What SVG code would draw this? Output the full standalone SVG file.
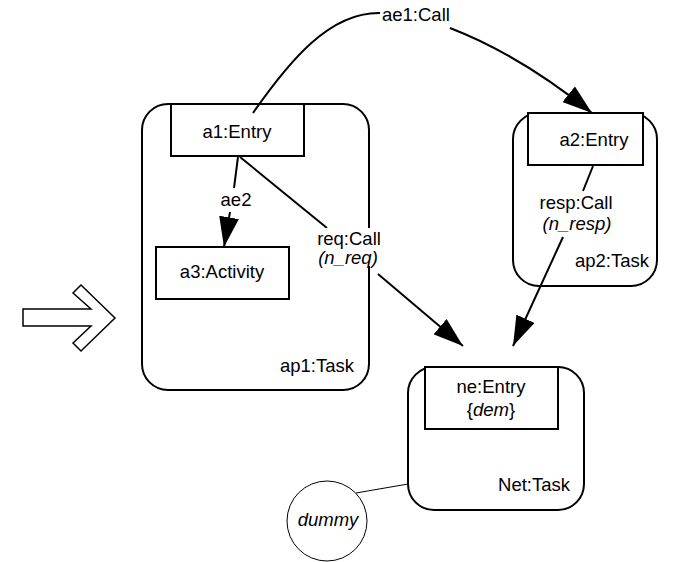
<svg xmlns="http://www.w3.org/2000/svg" width="691" height="562" viewBox="0 0 691 562">
  <defs>
    <marker id="arrow" markerUnits="userSpaceOnUse" markerWidth="30" markerHeight="20" refX="30" refY="10" orient="auto">
      <path d="M0,0 L30,10 L0,20 z" fill="#000"/>
    </marker>
    <style>
      text { font-family: "Liberation Sans", Arial, sans-serif; font-size: 18.5px; fill: #000; }
      .it { font-style: italic; }
      .mid { text-anchor: middle; }
      .end { text-anchor: end; }
      .task { fill: #fff; stroke: #000; stroke-width: 2; }
      .box { fill: #fff; stroke: #000; stroke-width: 2; }
      .conn { fill: none; stroke: #000; stroke-width: 2; }
      .thin { fill: none; stroke: #000; stroke-width: 1; }
      .label-bg { fill: #fff; stroke: none; }
    </style>
  </defs>
  <rect width="691" height="562" fill="#fff"/>

  <!-- hollow block arrow on the left -->
  <polygon points="23,309 91,309 73,293 81,285 115,318 81,351 73,343 91,326 23,326" fill="#fff" stroke="#000" stroke-width="1.5" stroke-linejoin="miter"/>

  <g id="ap1">
    <rect class="task" x="142" y="104" width="227" height="286" rx="26" ry="26"/>
    <text class="end" x="354" y="372">ap1:Task</text>
  </g>
  <g id="a1">
    <rect class="box" x="171" y="104" width="133" height="52"/>
    <text class="mid" x="237" y="138">a1:Entry</text>
  </g>
  <g id="a3">
    <rect class="box" x="156" y="247" width="133" height="52"/>
    <text class="mid" x="222" y="278">a3:Activity</text>
  </g>

  <g id="ap2">
    <rect class="task" x="513" y="113" width="144" height="173" rx="26" ry="26"/>
    <text class="end" x="649" y="267">ap2:Task</text>
  </g>
  <g id="a2">
    <rect class="box" x="528" y="113" width="115" height="52"/>
    <text class="mid" x="594" y="146">a2:Entry</text>
  </g>

  <g id="net">
    <rect class="task" x="408" y="367" width="176" height="143" rx="26" ry="26"/>
    <text class="end" x="570" y="491">Net:Task</text>
  </g>
  <g id="ne">
    <rect class="box" x="425" y="367" width="133" height="62"/>
    <text class="mid" x="491" y="393">ne:Entry</text>
    <text class="mid" x="491" y="416">{<tspan class="it">dem</tspan>}</text>
  </g>

  <g id="dummy">
    <circle cx="327" cy="521" r="40" fill="#fff" stroke="#000" stroke-width="1"/>
    <text class="mid it" x="328" y="526">dummy</text>
  </g>

  <g id="connectors">
    <!-- ae1:Call -->
    <path class="conn" d="M253,113 C290,60 330,12 380,13"/>
    <path class="conn" d="M450,28 Q520,55 592,113" marker-end="url(#arrow)"/>
    <text x="382" y="21">ae1:Call</text>

    <!-- ae2 -->
    <path class="conn" d="M238,157 L234,188"/>
    <path class="conn" d="M230,212 L224,247" marker-end="url(#arrow)"/>
    <text class="mid" x="236" y="206">ae2</text>

    <!-- req:Call (label sits on a white patch over the task border) -->
    <path class="conn" d="M240,157 L327,228"/>
    <path class="conn" d="M378,274 L463,346" marker-end="url(#arrow)"/>
    <rect class="label-bg" x="315" y="228" width="68" height="38"/>
    <text class="mid" x="349" y="245">req:Call</text>
    <text class="mid it" x="348" y="264">(n_req)</text>

    <!-- resp:Call -->
    <path class="conn" d="M593,166 L583,191"/>
    <path class="conn" d="M563,237 L513,346" marker-end="url(#arrow)"/>
    <text class="mid" x="576" y="209">resp:Call</text>
    <text class="mid it" x="577" y="230">(n_resp)</text>

    <!-- dummy link -->
    <path class="thin" d="M356,493 L408,484"/>
  </g>
</svg>
